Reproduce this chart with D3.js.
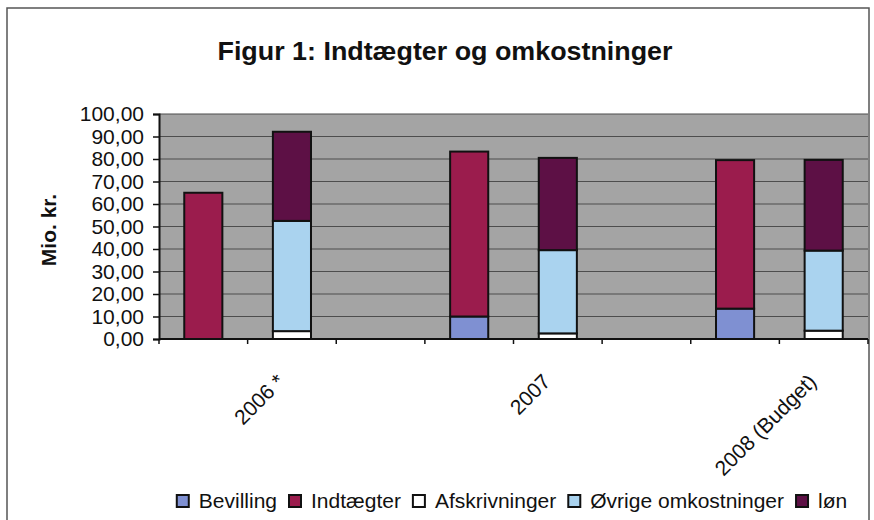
<!DOCTYPE html>
<html>
<head>
<meta charset="utf-8">
<script src="https://cdn.jsdelivr.net/npm/d3@7"></script>
<style>
  body { margin: 0; background: #fff; }
  text { font-family: 'Liberation Sans', Arial, sans-serif; fill: #111; }
</style>
</head>
<body>
<svg id="chart" width="874" height="520"></svg>
<script>
'use strict';
// values (Mio. kr.)
const years = ['2006 *', '2007', '2008 (Budget)'];
// income bar: stacked bevilling + indtaegter
const bevilling = [0, 10, 13.5];
const indtaegter = [65, 73.3, 66];
// cost bar: stacked afskrivninger + oevrige + loen
const afskrivninger = [3.5, 2.5, 3.7];
const oevrige = [49, 37, 35.6];
const loen = [39.6, 41, 40.3];
const yTicks = [0, 10, 20, 30, 40, 50, 60, 70, 80, 90, 100];

const seriesNames = ['Bevilling', 'Indtægter', 'Afskrivninger', 'Øvrige omkostninger', 'løn'];
const seriesColors = ['#7f90d2', '#9b1c4d', '#ffffff', '#aad3ef', '#5d1045'];

const svg = d3.select('#chart');
const plot = { left: 159, right: 868, top: 114, bottom: 339 };

// outer frame of the figure
svg.append('rect')
  .attr('x', 7).attr('y', 8)
  .attr('width', 862).attr('height', 540)
  .attr('fill', '#fff')
  .attr('stroke', '#555').attr('stroke-width', 1.5);

// title (condensed bold like the original)
svg.append('text')
  .attr('x', 445).attr('y', 60)
  .attr('text-anchor', 'middle')
  .attr('font-size', 25).attr('font-weight', 'bold')
  .attr('textLength', 455).attr('lengthAdjust', 'spacingAndGlyphs')
  .text('Figur 1: Indtægter og omkostninger');

// 8 slots: income, cost, gap for each year (no gap after the last)
const slots = [];
years.forEach((y, i) => {
  slots.push(y + '|in', y + '|out');
  if (i < years.length - 1) slots.push('gap' + i);
});

const x = d3.scaleBand()
  .domain(slots)
  .range([plot.left, plot.right])
  .paddingInner(0.57)
  .paddingOuter(0.285);
const y = d3.scaleLinear().domain([0, 100]).range([plot.bottom, plot.top]);

// plot background
svg.append('rect')
  .attr('x', plot.left).attr('y', plot.top)
  .attr('width', plot.right - plot.left).attr('height', plot.bottom - plot.top)
  .attr('fill', '#a4a4a4');

// gridlines
svg.append('g')
  .selectAll('line')
  .data(yTicks)
  .join('line')
  .attr('x1', plot.left).attr('x2', plot.right)
  .attr('y1', d => y(d)).attr('y2', d => y(d))
  .attr('stroke', '#4d4d4d').attr('stroke-width', 1.2);

// stacked data
const stackIn = d3.stack().keys(['bevilling', 'indtaegter'])(
  years.map((yr, i) => ({ year: yr, bevilling: bevilling[i], indtaegter: indtaegter[i] })));
const stackOut = d3.stack().keys(['afskrivninger', 'oevrige', 'loen'])(
  years.map((yr, i) => ({ year: yr, afskrivninger: afskrivninger[i], oevrige: oevrige[i], loen: loen[i] })));

const drawStack = (layers, suffix, colorOffset) => {
  layers.forEach((layer, k) => {
    svg.append('g')
      .selectAll('rect')
      .data(layer.filter(d => d[1] - d[0] > 0))
      .join('rect')
      .attr('x', d => x(d.data.year + suffix))
      .attr('width', x.bandwidth())
      .attr('y', d => y(d[1]))
      .attr('height', d => y(d[0]) - y(d[1]))
      .attr('fill', seriesColors[colorOffset + k])
      .attr('stroke', '#111').attr('stroke-width', 2);
  });
};
drawStack(stackIn, '|in', 0);
drawStack(stackOut, '|out', 2);

// y axis
const yAxis = svg.append('g')
  .attr('transform', `translate(${plot.left},0)`)
  .call(d3.axisLeft(y).tickValues(yTicks).tickSize(6).tickPadding(9)
    .tickFormat(d => d3.format('.2f')(d).replace('.', ',')));
yAxis.select('.domain').attr('stroke', '#111').attr('stroke-width', 2);
yAxis.selectAll('.tick line').attr('stroke', '#111').attr('stroke-width', 1.5);
yAxis.selectAll('text').attr('font-size', 21).attr('font-family', "'Liberation Sans', Arial, sans-serif").attr('fill', '#111');

// x axis line with ticks at slot boundaries
const step = x.step();
const xBounds = d3.range(slots.length + 1).map(i => plot.left + i * step);
svg.append('line')
  .attr('x1', plot.left).attr('x2', plot.right)
  .attr('y1', plot.bottom).attr('y2', plot.bottom)
  .attr('stroke', '#111').attr('stroke-width', 2);
svg.append('g')
  .selectAll('line')
  .data(xBounds)
  .join('line')
  .attr('x1', d => d).attr('x2', d => d)
  .attr('y1', plot.bottom).attr('y2', plot.bottom + 5)
  .attr('stroke', '#111').attr('stroke-width', 1.5);

// rotated year labels under the cost bar
svg.append('g')
  .selectAll('text')
  .data(years)
  .join('text')
  .attr('transform', d => `translate(${x(d + '|out') + x.bandwidth() / 2 - 6},${plot.bottom + 44}) rotate(-45)`)
  .attr('text-anchor', 'end')
  .attr('font-size', 21)
  .text(d => d);

// y axis title
svg.append('text')
  .attr('transform', 'translate(56,230) rotate(-90)')
  .attr('text-anchor', 'middle')
  .attr('font-size', 21).attr('font-weight', 'bold')
  .text('Mio. kr.');

// legend
const legend = svg.append('g');
let lx = 0;
seriesNames.forEach((name, i) => {
  const item = legend.append('g').attr('transform', `translate(${lx},0)`);
  item.append('rect')
    .attr('x', 0).attr('y', -13)
    .attr('width', 12).attr('height', 12)
    .attr('fill', seriesColors[i])
    .attr('stroke', '#111').attr('stroke-width', 2);
  const t = item.append('text')
    .attr('x', 22).attr('y', 0)
    .attr('font-size', 21)
    .text(name);
  lx += 22 + t.node().getComputedTextLength() + 12;
});
const legendW = lx - 12;
legend.attr('transform', `translate(${512 - legendW / 2},508)`);
</script>
</body>
</html>
